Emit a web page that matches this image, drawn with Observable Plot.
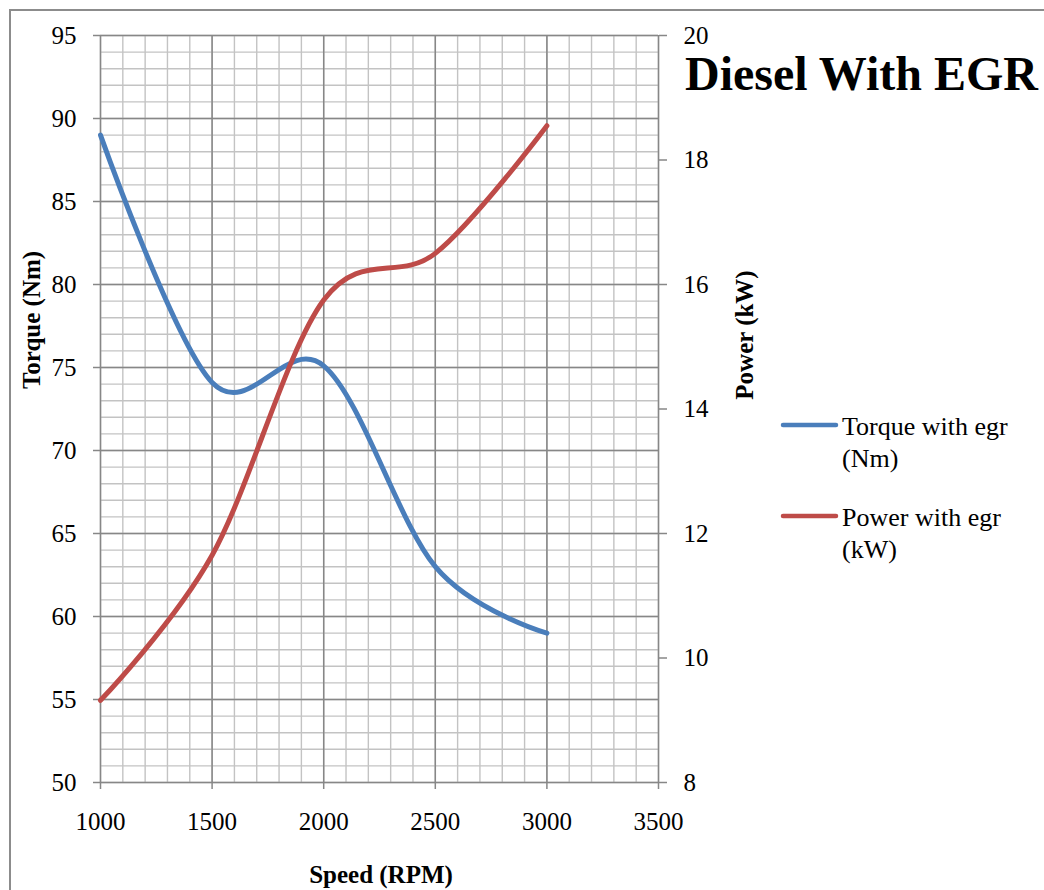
<!DOCTYPE html>
<html><head><meta charset="utf-8">
<script src="https://cdn.jsdelivr.net/npm/d3@7"></script>
<script src="https://cdn.jsdelivr.net/npm/@observablehq/plot@0.6"></script>
<style>
body{margin:0;overflow:hidden;background:#fff;font-family:"Liberation Serif","Times New Roman",serif;}
#wrap{position:relative;width:1044px;height:890px;overflow:hidden;background:#fff;}
#wrap svg{position:absolute;left:0;top:0;}
</style></head><body>
<div id="wrap">
 <div style="position:absolute;left:9px;top:9px;width:1100px;height:1000px;border-left:2px solid #8c8c8c;border-top:2px solid #8c8c8c;"></div>
</div>
<script>
// ---- data ----
const speed  = [1000, 1500, 2000, 2500, 3000];
const torque = [89, 74.1, 75.1, 63, 59];
const power  = [9.32, 11.65, 15.75, 16.5, 18.55];
const speedTicks  = [1000, 1500, 2000, 2500, 3000, 3500];
const torqueTicks = [50, 55, 60, 65, 70, 75, 80, 85, 90, 95];
const powerTicks  = [8, 10, 12, 14, 16, 18, 20];
const seriesNames = ["Torque with egr", "(Nm)", "Power with egr", "(kW)"];
const chartTitle = "Diesel With EGR";

const rows = speed.map((s, i) => ({speed: s, torque: torque[i], power: power[i]}));
const W = 1044, H = 890;
const M = {left: 100, right: 386, top: 35, bottom: 108};
const FONT = "Liberation Serif";
const blue = "#4A7EBB", red = "#BE4B48";
const minorX = d3.range(1000, 3501, 100);
const minorY = d3.range(50, 95.01, 1);

const common = {
  width: W, height: H,
  marginLeft: M.left, marginRight: M.right, marginTop: M.top, marginBottom: M.bottom,
  style: {fontFamily: FONT, fontSize: "25px", background: "transparent", color: "black", overflow: "visible"}
};

const p1 = Plot.plot({
  ...common,
  x: {domain: [1000, 3500], axis: null},
  y: {domain: [50, 95], axis: null},
  marks: [
    Plot.gridX(minorX, {stroke: "#c3c3c3", strokeOpacity: 1, strokeWidth: 1.4}),
    Plot.gridY(minorY, {stroke: "#c3c3c3", strokeOpacity: 1, strokeWidth: 1.4}),
    Plot.gridX(speedTicks, {stroke: "#878787", strokeOpacity: 1, strokeWidth: 1.5}),
    Plot.gridY(torqueTicks, {stroke: "#878787", strokeOpacity: 1, strokeWidth: 1.5}),
    Plot.axisY(torqueTicks, {anchor: "left", tickSize: 7, tickPadding: 17, stroke: "#878787", strokeWidth: 1.5, fill: "black", fontSize: 25, fontFamily: FONT, label: null}),
    Plot.axisX(speedTicks, {anchor: "bottom", tickSize: 7, tickPadding: 23, stroke: "#878787", strokeWidth: 1.5, fill: "black", fontSize: 25, fontFamily: FONT, label: null, tickFormat: d => String(d)}),
    Plot.line(rows, {x: "speed", y: "torque", curve: "cardinal", stroke: blue, strokeWidth: 5, strokeLinecap: "round"})
  ]
});

const p2 = Plot.plot({
  ...common,
  x: {domain: [1000, 3500], axis: null},
  y: {domain: [8, 20], axis: null},
  marks: [
    Plot.axisY(powerTicks, {anchor: "right", tickSize: 8, tickPadding: 17, stroke: "#878787", strokeWidth: 1.5, fill: "black", fontSize: 25, fontFamily: FONT, label: null, tickFormat: d => String(d)}),
    Plot.line(rows, {x: "speed", y: "power", curve: "cardinal", stroke: red, strokeWidth: 5, strokeLinecap: "round"})
  ]
});

const wrap = document.getElementById("wrap");
wrap.appendChild(p1);
wrap.appendChild(p2);

// annotations: title, axis titles, legend
const svg = d3.select(wrap).append("svg").attr("width", W).attr("height", H)
  .attr("font-family", FONT).style("overflow", "visible");

svg.append("text").attr("x", 685).attr("y", 90).attr("font-size", 48).attr("font-weight", "bold").text(chartTitle);
svg.append("text").attr("x", 381).attr("y", 883).attr("text-anchor", "middle").attr("font-size", 25).attr("font-weight", "bold").text("Speed (RPM)");
svg.append("text").attr("transform", "translate(40,320) rotate(-90)").attr("text-anchor", "middle").attr("font-size", 25).attr("font-weight", "bold").text("Torque (Nm)");
svg.append("text").attr("transform", "translate(753,335) rotate(-90)").attr("text-anchor", "middle").attr("font-size", 25).attr("font-weight", "bold").text("Power (kW)");

const leg = [
  {color: blue, y: 425, lines: [seriesNames[0], seriesNames[1]], base: 435},
  {color: red,  y: 516, lines: [seriesNames[2], seriesNames[3]], base: 526}
];
leg.forEach(l => {
  svg.append("line").attr("x1", 783).attr("x2", 836).attr("y1", l.y).attr("y2", l.y)
    .attr("stroke", l.color).attr("stroke-width", 4.5).attr("stroke-linecap", "round");
  l.lines.forEach((t, i) => {
    svg.append("text").attr("x", 842).attr("y", l.base + i * 31.5).attr("font-size", 26).text(t);
  });
});
</script>
</body></html>
